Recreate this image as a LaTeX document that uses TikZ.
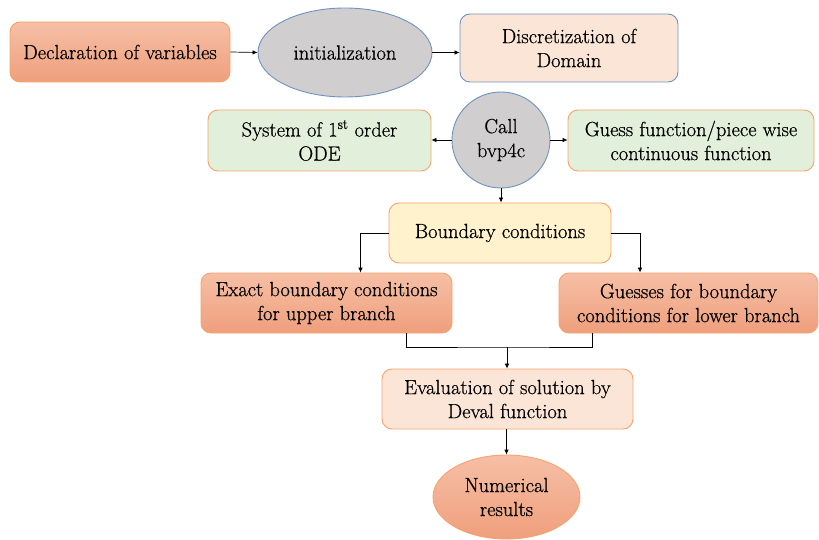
\documentclass[tikz,border=0pt]{standalone}
\usepackage{fontspec}
\newfontfamily\labelfont{Latin Modern Roman}[FakeBold=0.6]
\usetikzlibrary{shapes.geometric,arrows.meta}
\definecolor{ortop}{HTML}{F6BFA6}
\definecolor{orbot}{HTML}{EF9F7C}
\definecolor{orline}{HTML}{F4A46C}
\definecolor{blueline}{HTML}{7093BE}
\definecolor{grayfill}{HTML}{D0CECE}
\definecolor{peach}{HTML}{FBE5D6}
\definecolor{greenfill}{HTML}{E2EFDA}
\definecolor{yellowfill}{HTML}{FFF2CC}
\tikzset{
  base/.style={font=\labelfont\fontsize{20.5}{24}\selectfont, align=center, inner sep=0pt, line width=0.9pt, text=black},
  rbox/.style={base, rectangle, rounded corners=10pt},
  orangebox/.style={rbox, draw=orline, top color=ortop, bottom color=orbot},
  peachblue/.style={rbox, draw=blueline, fill=peach},
  peachor/.style={rbox, draw=orline, fill=peach},
  greenbox/.style={rbox, draw=orline, fill=greenfill},
  yellowbox/.style={rbox, draw=orline, fill=yellowfill},
  grayell/.style={base, ellipse, draw=blueline, fill=grayfill},
  orangeell/.style={base, ellipse, draw=orline, top color=ortop, bottom color=orbot},
  arr/.style={-{Latex[length=5pt,width=4.5pt]}, line width=0.7pt, black},
  ln/.style={line width=0.7pt, black}
}
\begin{document}
\begin{tikzpicture}[x=1pt,y=-1pt]
\useasboundingbox (0,0) rectangle (819,540);
\node[orangebox, minimum width=220pt, minimum height=60pt] (decl) at (120,52) {Declaration of variables};
\node[grayell, minimum width=174pt, minimum height=89pt] (init) at (345,52.5) {initialization};
\node[peachblue, minimum width=218pt, minimum height=68pt] (disc) at (569,48) {Discretization of\\Domain};
\node[grayell, minimum width=98pt, minimum height=96pt] (call) at (501,140) {Call\\bvp4c};
\node[greenbox, minimum width=223pt, minimum height=61pt] (sys) at (319.5,140.5) {System of 1\textsuperscript{st} order\\ODE};
\node[greenbox, minimum width=246pt, minimum height=61pt] (guess) at (691,140.5) {Guess function/piece wise\\continuous function};
\node[yellowbox, minimum width=222pt, minimum height=60pt] (bc) at (500,233) {Boundary conditions};
\node[orangebox, minimum width=251pt, minimum height=60pt] (exact) at (326.5,303) {Exact boundary conditions\\for upper branch};
\node[orangebox, minimum width=259pt, minimum height=60pt] (guesses) at (688.5,303) {Guesses for boundary\\conditions for lower branch};
\node[peachor, minimum width=251pt, minimum height=60pt] (eval) at (507.5,399) {Evaluation of solution by\\Deval function};
\node[orangeell, minimum width=147pt, minimum height=84pt] (num) at (506.5,497) {Numerical\\results};
\coordinate (j) at (507,347);
\draw[arr] (decl.east) -- (init.west);
\draw[arr] (init.east) -- (init.east -| disc.west);
\draw[arr] (call.west) -- (call.west -| sys.east);
\draw[arr] (call.east) -- (call.east -| guess.west);
\draw[arr] (call.south) -- (call.south |- bc.north);
\draw[arr] (bc.west) -| ([xshift=34pt]exact.north);
\draw[arr] (bc.east) -| ([xshift=-48.5pt]guesses.north);
\draw[ln] ([xshift=79.5pt]exact.south) |- (j) -| ([xshift=-96.5pt]guesses.south);
\draw[arr] (j) -- (j |- eval.north);
\draw[arr] (eval.south -| num.north) -- (num.north);
\end{tikzpicture}
\end{document}
